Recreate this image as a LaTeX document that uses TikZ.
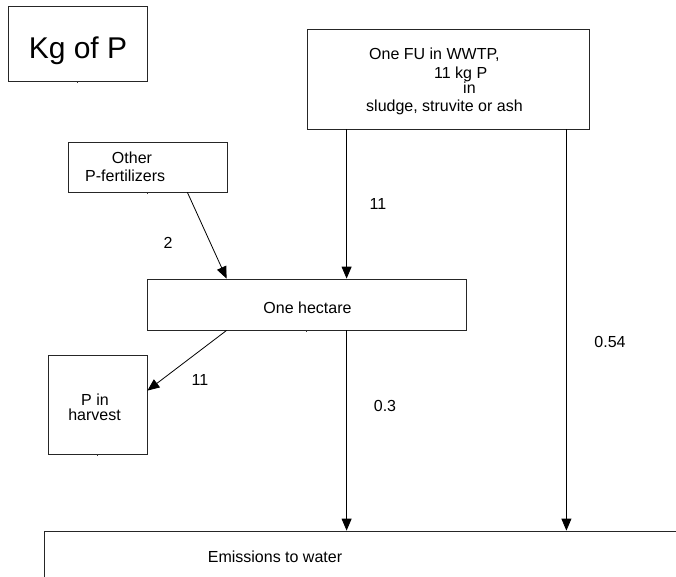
\documentclass[tikz,border=0pt]{standalone}
\usepackage{fontspec}
\setmainfont{Liberation Sans}
\usetikzlibrary{arrows.meta,calc}
\begin{document}
\begin{tikzpicture}[x=1pt,y=-1pt,
  box/.style={draw=black!85,line width=0.8pt,rectangle,inner sep=0pt},
  txt/.style={inner sep=0pt,font=\fontsize{16}{18}\selectfont},
  arr/.style={draw=black,line width=0.8pt,-{Triangle[length=12pt,width=10pt]}},
  tick/.style={draw=black!80,line width=0.8pt}]
\useasboundingbox (0,0) rectangle (676,577);
\clip (0,0) rectangle (676,577);
\fill[white] (0,0) rectangle (676,577);
% boxes
\node[box,minimum width=139pt,minimum height=75pt] (kg) at (77.5,43.5) {};
\node[box,minimum width=282pt,minimum height=100pt] (wwtp) at (448,79) {};
\node[box,minimum width=159pt,minimum height=50pt] (other) at (147.5,167) {};
\node[box,minimum width=319pt,minimum height=51pt] (hect) at (306.5,304.5) {};
\node[box,minimum width=99pt,minimum height=99pt] (harv) at (97.5,404.5) {};
\node[box,minimum width=656pt,minimum height=69pt] (emis) at (372,565.5) {};
% small centre ticks under boxes
\draw[tick] (kg.south) -- ++(0,1.5);
\draw[tick] (other.south) -- ++(0,1.5);
\draw[tick] (hect.south) -- ++(0,1.5);
\draw[tick] (harv.south) -- ++(0,1.5);
% texts
\node[inner sep=0pt,font=\fontsize{30}{34}\selectfont,anchor=base] (kgt) at (78,59) {Kg of P};
\node[txt,anchor=base west] (w1) at (369,60) {One FU in WWTP,};
\node[txt,anchor=base west] (w2) at (434,78.5) {11 kg P};
\node[txt,anchor=base west] (w3) at (463,94) {in};
\node[txt,anchor=base west] (w4) at (366,112) {sludge, struvite or ash};
\node[txt,anchor=base] (o1) at (132,164) {Other};
\node[txt,anchor=base west] (o2) at (85,182) {P-fertilizers};
\node[txt,anchor=base] (ht) at (307.5,313) {One hectare};
\node[txt,anchor=base] (p1) at (95,405) {P in};
\node[txt,anchor=base] (p2) at (94.5,420) {harvest};
\node[txt,anchor=base] (et) at (275,562) {Emissions to water};
% labels
\node[txt,anchor=base] (l2) at (168,248) {2};
\node[txt,anchor=base] (l11a) at (378,210) {11};
\node[txt,anchor=base] (l11b) at (200,385) {11};
\node[txt,anchor=base] (l03) at (385,411) {0.3};
\node[txt,anchor=base] (l054) at (610,347) {0.54};
% connectors
\draw[arr] ([xshift=40pt]wwtp.south west) -- ([xshift=40pt]wwtp.south west |- hect.north);
\draw[arr] ([xshift=-23pt]wwtp.south east) -- ([xshift=-23pt]wwtp.south east |- emis.north);
\draw[arr] ([xshift=-40pt]other.south east) -- ([xshift=80pt]hect.north west);
\draw[arr] ([xshift=80pt]hect.south west) -- ([yshift=-36pt]harv.north east);
\draw[arr] ([xshift=200pt]hect.south west) -- ([xshift=200pt]hect.south west |- emis.north);
\end{tikzpicture}
\end{document}
